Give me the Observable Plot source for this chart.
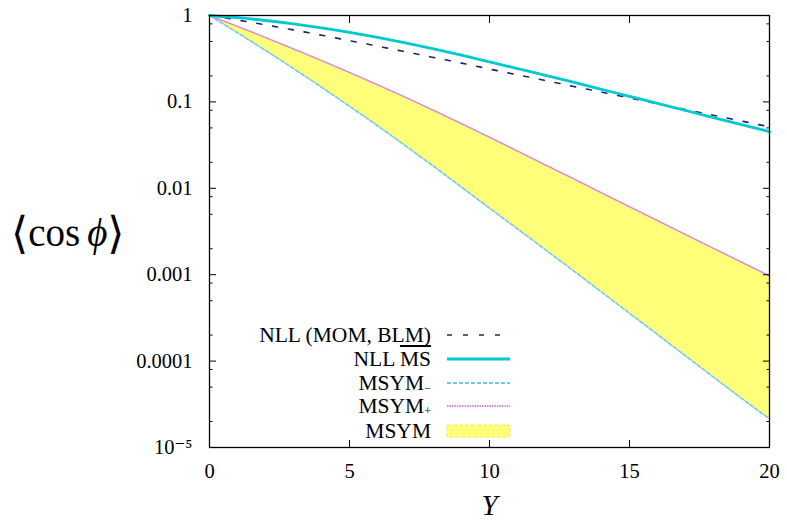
<!DOCTYPE html>
<html>
<head>
<meta charset="utf-8">
<script src="https://cdn.jsdelivr.net/npm/d3@7"></script>
<script src="https://cdn.jsdelivr.net/npm/@observablehq/plot@0.6"></script>
<style>
  body { margin: 0; background: #fff; }
  #wrap { position: relative; width: 787px; height: 525px; font-family: "Liberation Serif", "Times New Roman", "DejaVu Serif", serif; color: #000; }
  #ylabel { position: absolute; left: 11px; top: 200px; height: 64px; display: flex; align-items: center; font-size: 39px; white-space: nowrap; }
  #ylabel .br { font-family: "DejaVu Serif", serif; font-size: 44px; font-weight: 200; }
  #ylabel .phi { font-style: italic; margin-left: 7px; }
  .legrow { position: absolute; right: 356px; height: 20px; line-height: 20px; font-size: 21.5px; white-space: nowrap; text-align: right; }
  .legrow sub { font-size: 12px; vertical-align: -2px; line-height: 0; }
  .ovl { text-decoration: overline; }
  #legsvg { position: absolute; left: 440px; top: 320px; }
</style>
</head>
<body>
<div id="wrap"></div>
<script>
// ---- data ----
const Yvals = [0, 1, 2, 3, 4, 5, 6, 7, 8, 9, 10, 11, 12, 13, 14, 15, 16, 17, 18, 19, 20];
const nllMomBlm = [1, 0.887, 0.780, 0.681, 0.592, 0.512, 0.442, 0.380, 0.327, 0.281, 0.240, 0.206, 0.177, 0.151, 0.130, 0.111, 0.0953, 0.0817, 0.0700, 0.0600, 0.0514];
const nllMsbar  = [1, 0.944, 0.875, 0.798, 0.718, 0.637, 0.557, 0.481, 0.410, 0.347, 0.291, 0.243, 0.203, 0.169, 0.140, 0.116, 0.0962, 0.0796, 0.0659, 0.0546, 0.0452];
const msymMinus = [1, 0.631, 0.394, 0.243, 0.148, 0.0891, 0.0530, 0.0310, 0.0180, 0.0103, 0.00589, 0.00339, 0.00194, 0.00111, 0.000630, 0.000357, 0.000203, 0.000115, 0.0000653, 0.0000371, 0.0000215];
const msymPlus  = [1, 0.748, 0.556, 0.410, 0.301, 0.219, 0.158, 0.113, 0.0798, 0.0560, 0.0390, 0.0270, 0.0186, 0.0129, 0.00887, 0.00612, 0.00423, 0.00292, 0.00202, 0.00140, 0.000968];

const xTicks = [0, 5, 10, 15, 20];
const yTicks = [1, 0.1, 0.01, 0.001, 0.0001, 0.00001];
const yTickLabels = ["1", "0.1", "0.01", "0.001", "0.0001", "10\u207B\u2075"];
const yMinorTicks = [0.8, 0.5, 0.2, 0.08, 0.05, 0.02, 0.008, 0.005, 0.002, 0.0008, 0.0005, 0.0002, 0.00008, 0.00005, 0.00002];

const seriesNames = ["NLL (MOM, BLM)", "NLL MS", "MSYM\u2212", "MSYM+", "MSYM"];
const xLabel = "Y";

// ---- colours ----
const cNavy = "#22227a", cCyan = "#00c9cf", cSky = "#74c6ec", cPink = "#d987e0", cYellow = "#ffff7a";
const serifFont = "'Liberation Serif', 'Times New Roman', 'DejaVu Serif', serif";

const rows = Yvals.map((y, i) => ({Y: y, mom: nllMomBlm[i], msbar: nllMsbar[i], minus: msymMinus[i], plus: msymPlus[i]}));
const labelMap = new Map(yTicks.map((v, i) => [v, yTickLabels[i]]));

const chart = Plot.plot({
  width: 787,
  height: 525,
  marginLeft: 209,
  marginRight: 18,
  marginTop: 15,
  marginBottom: 78,
  style: {fontFamily: serifFont, fontSize: "20.5px", background: "#fff", color: "#000"},
  x: {domain: [0, 20], label: null},
  y: {type: "log", domain: [0.00001, 1], label: null},
  marks: [
    Plot.areaY(rows, {x: "Y", y1: "minus", y2: "plus", fill: cYellow, curve: "monotone-x"}),
    Plot.line(rows, {x: "Y", y: "minus", stroke: cSky, strokeWidth: 1.6, strokeDasharray: "4,2", curve: "monotone-x"}),
    Plot.line(rows, {x: "Y", y: "plus", stroke: cPink, strokeWidth: 1.5, strokeDasharray: "1.5,1", curve: "monotone-x"}),
    Plot.line(rows, {x: "Y", y: "mom", stroke: cNavy, strokeWidth: 1.6, strokeDasharray: "5,11", curve: "monotone-x"}),
    Plot.line(rows, {x: "Y", y: "msbar", stroke: cCyan, strokeWidth: 2.8, curve: "monotone-x"}),
    Plot.frame({stroke: "#000", strokeWidth: 1.3}),
    // inward ticks (mirrored)
    Plot.axisX(xTicks, {anchor: "bottom", tickSize: -7, text: null, label: null}),
    Plot.axisX(xTicks, {anchor: "top", tickSize: -7, text: null, label: null}),
    Plot.axisY(yTicks, {anchor: "left", tickSize: -7, text: null, label: null}),
    Plot.axisY(yTicks, {anchor: "right", tickSize: -7, text: null, label: null}),
    Plot.axisY(yMinorTicks, {anchor: "left", tickSize: -3.5, text: null, label: null}),
    Plot.axisY(yMinorTicks, {anchor: "right", tickSize: -3.5, text: null, label: null}),
    // tick labels
    Plot.axisX(xTicks, {anchor: "bottom", tickSize: 0, tickPadding: 16, label: null, fontSize: 20.5}),
    Plot.axisY(yTicks, {anchor: "left", tickSize: 0, tickPadding: 17, label: null, fontSize: 20.5, tickFormat: d => labelMap.get(d)}),
    // x axis title
    Plot.text([xLabel], {frameAnchor: "bottom", dy: 58, lineAnchor: "middle", fontSize: 29, fontStyle: "italic", text: d => d})
  ]
});

const wrap = document.getElementById("wrap");
wrap.appendChild(chart);

// y-axis title
const yl = document.createElement("div");
yl.id = "ylabel";
yl.innerHTML = '<span class="br">\u27E8</span><span>cos</span><span class="phi">\u03D5</span><span class="br">\u27E9</span>';
wrap.appendChild(yl);

// legend text
const rowCenters = [335, 359, 383, 406, 431];
const legendHTML = [
  seriesNames[0],
  'NLL <span class="ovl">MS</span>',
  'MSYM<sub>\u2212</sub>',
  'MSYM<sub>+</sub>',
  seriesNames[4]
];
rowCenters.forEach((cy, i) => {
  const d = document.createElement("div");
  d.className = "legrow";
  d.style.top = (cy - 10) + "px";
  d.innerHTML = legendHTML[i];
  wrap.appendChild(d);
});

// legend samples
const top0 = 320;
const ls = d3.select(wrap).append("svg").attr("id", "legsvg").attr("width", 80).attr("height", 125);
const sx1 = 7, sx2 = 70;
const styles = [
  {stroke: cNavy, w: 1.6, dash: "5,11"},
  {stroke: cCyan, w: 2.8, dash: null},
  {stroke: cSky, w: 1.8, dash: "4,2"},
  {stroke: cPink, w: 1.8, dash: "1.5,1"}
];
styles.forEach((s, i) => {
  ls.append("line").attr("x1", sx1).attr("x2", sx2)
    .attr("y1", rowCenters[i] - top0).attr("y2", rowCenters[i] - top0)
    .attr("stroke", s.stroke).attr("stroke-width", s.w)
    .attr("stroke-dasharray", s.dash);
});
ls.append("rect").attr("x", sx1).attr("width", sx2 - sx1)
  .attr("y", rowCenters[4] - top0 - 6).attr("height", 12)
  .attr("fill", cYellow).attr("stroke", "#f0f040").attr("stroke-width", 1).attr("stroke-dasharray", "4,2");
</script>
</body>
</html>
